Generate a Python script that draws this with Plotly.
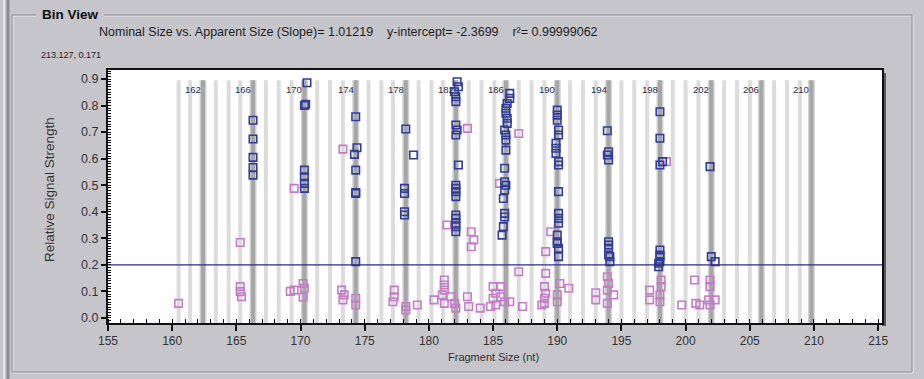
import plotly.graph_objects as go

# ---------------- data ----------------
bin_labels = ["162", "166", "170", "174", "178", "182", "186", "190", "194", "198", "202", "206", "210"]
bin_centers = [162.4, 166.3, 170.3, 174.3, 178.2, 182.1, 186.0, 190.0, 194.0, 198.0, 202.0, 205.9, 209.8]
minor_bins = [160.5, 161.4, 163.4, 164.4, 165.3, 167.3, 168.3, 169.3, 171.3, 172.3, 173.3,
              175.3, 176.3, 177.2, 179.2, 180.2, 181.1, 183.1, 184.1, 185.1, 187.0, 188.0,
              189.0, 191.0, 192.0, 193.0, 195.0, 196.0, 197.0, 199.0, 200.0, 201.0, 203.0,
              204.0, 205.0, 206.9, 207.9, 208.9]

blue_x = [166.3, 166.3, 166.3, 166.3, 166.3,
          170.5, 170.3, 170.4, 170.3, 170.3, 170.3, 170.3,
          174.3, 174.4, 174.2, 174.3, 174.3, 174.3, 174.3,
          178.2, 178.8, 178.1, 178.1, 178.1, 178.1,
          182.2, 182.3, 182.0, 182.1, 182.1, 182.1, 182.2, 182.1, 182.3, 182.1, 182.1, 182.1,
          182.1, 182.1, 182.1, 182.1, 182.1, 182.1,
          186.3, 186.3, 186.1, 186.0, 186.0, 186.1, 186.1, 185.9, 186.0, 186.0, 186.0, 185.9,
          185.9, 186.0, 185.9, 185.8, 185.9, 185.9, 185.8, 185.7,
          190.0, 190.0, 190.0, 190.1, 190.1, 189.9, 189.9, 189.9, 190.1, 190.1, 190.1, 190.1,
          190.1, 190.1, 190.0, 190.0, 190.1, 190.1, 190.0,
          193.9, 194.0, 193.9, 194.0, 194.0, 194.0, 194.0, 194.0, 194.1, 194.1,
          198.0, 198.0, 198.0, 198.2, 198.0, 198.0, 198.0, 198.0, 197.9, 197.9,
          201.9, 202.0, 202.3]
blue_y = [0.745, 0.674, 0.605, 0.567, 0.538,
          0.886, 0.800, 0.805, 0.557, 0.532, 0.507, 0.488,
          0.758, 0.641, 0.616, 0.557, 0.469, 0.472, 0.212,
          0.712, 0.614, 0.488, 0.469, 0.400, 0.388,
          0.890, 0.871, 0.852, 0.833, 0.815, 0.727, 0.708, 0.689, 0.576, 0.500, 0.488, 0.476,
          0.457, 0.388, 0.375, 0.357, 0.344, 0.325,
          0.846, 0.827, 0.808, 0.790, 0.771, 0.752, 0.733, 0.708, 0.689, 0.670, 0.632, 0.564,
          0.513, 0.500, 0.482, 0.450, 0.394, 0.380, 0.344, 0.312,
          0.783, 0.764, 0.745, 0.708, 0.689, 0.658, 0.639, 0.620, 0.589, 0.576, 0.476, 0.394,
          0.375, 0.357, 0.312, 0.287, 0.262, 0.231, 0.281,
          0.705, 0.626, 0.614, 0.595, 0.287, 0.275, 0.262, 0.237, 0.231, 0.212,
          0.777, 0.677, 0.576, 0.589, 0.256, 0.237, 0.231, 0.212, 0.206, 0.193,
          0.570, 0.231, 0.212]

pink_x = [160.5,
          165.3, 165.3, 165.3, 165.4,
          169.5, 169.5, 170.2, 170.3, 170.2, 169.2,
          173.3, 173.2, 173.4, 173.3, 174.3, 174.3,
          177.3, 177.3, 177.2, 178.2, 178.2, 179.1,
          181.2, 181.2, 181.2, 181.05, 181.2, 181.7, 182.0, 182.1, 180.4, 183.0, 183.1, 184.0,
          181.4, 183.3, 183.5, 183.3, 183.0,
          185.0, 185.6, 185.2, 185.0, 185.6, 185.9, 186.3, 185.2, 184.8, 185.5, 187.0, 187.0, 187.3,
          189.0, 189.1, 189.0, 189.0, 190.0, 190.0, 188.8, 190.2, 189.5, 189.1, 189.1, 190.9,
          193.0, 193.0, 193.9, 194.0, 193.9, 194.4, 193.9,
          198.1, 198.1, 198.0, 198.0, 197.2, 197.2, 199.7, 198.5,
          200.7, 200.8, 201.1, 201.9, 201.9, 201.8, 202.3, 201.9]
pink_y = [0.055,
          0.284, 0.118, 0.099, 0.080,
          0.488, 0.105, 0.130, 0.112, 0.078, 0.100,
          0.636, 0.105, 0.087, 0.068, 0.074, 0.049,
          0.105, 0.080, 0.061, 0.030, 0.043, 0.049,
          0.143, 0.124, 0.105, 0.087, 0.055, 0.080, 0.055, 0.037, 0.068, 0.080, 0.043, 0.037,
          0.350, 0.325, 0.294, 0.268, 0.714,
          0.118, 0.118, 0.093, 0.074, 0.080, 0.061, 0.061, 0.049, 0.043, 0.507, 0.695, 0.174, 0.043,
          0.118, 0.093, 0.074, 0.055, 0.087, 0.061, 0.049, 0.130, 0.325, 0.250, 0.168, 0.112,
          0.095, 0.068, 0.155, 0.130, 0.105, 0.087, 0.055,
          0.143, 0.118, 0.087, 0.061, 0.105, 0.068, 0.049, 0.589,
          0.143, 0.055, 0.049, 0.143, 0.118, 0.068, 0.068, 0.049]

threshold = 0.2
GAP = "\u00a0" * 4
title_text = ("Nominal Size vs. Apparent Size (Slope)= 1.01219" + GAP +
              "y-intercept= -2.3699" + GAP + "r\u00b2= 0.99999062")
cursor_text = "213.127, 0.171"

# ---------------- layout helpers ----------------
W, H = 924, 379
ML, MR, MT, MB = 108, 42, 70, 56
PW, PH = W - ML - MR, H - MT - MB


def px(x):
    return (x - ML) / PW


def py(y):
    return (H - MB - y) / PH


FONT = "Liberation Sans, Arial, sans-serif"
BG = "#c6c5ca"
STRIPE_TOP = 0.895
Y0, Y1 = -0.019, 0.934

fig = go.Figure()

shapes = []
for xv in minor_bins:
    shapes.append(dict(type="line", xref="x", yref="y", x0=xv, x1=xv, y0=Y0, y1=STRIPE_TOP,
                       line=dict(color="#dcdcdc", width=4), layer="below"))
for xv in bin_centers:
    shapes.append(dict(type="line", xref="x", yref="y", x0=xv, x1=xv, y0=Y0, y1=STRIPE_TOP,
                       line=dict(color="#d2d2d2", width=7), layer="below"))
    shapes.append(dict(type="line", xref="x", yref="y", x0=xv, x1=xv, y0=Y0, y1=STRIPE_TOP,
                       line=dict(color="#a6a6a6", width=4), layer="below"))

# threshold line
shapes.append(dict(type="line", xref="paper", yref="y", x0=0, x1=1, y0=threshold, y1=threshold,
                   line=dict(color="#2e2e78", width=1.3)))

# plot shadow (right side)
shapes.append(dict(type="rect", xref="paper", yref="paper", x0=px(882), x1=px(886), y0=py(326), y1=py(73),
                   fillcolor="#5a5a5a", line=dict(width=0), layer="below"))

# group box frame
gb = dict(x0=px(12), x1=px(912), y0=py(372), y1=py(15))
shapes.append(dict(type="rect", xref="paper", yref="paper", x0=px(13), x1=px(913), y0=py(373), y1=py(16),
                   line=dict(color="#ececec", width=1), layer="below"))
shapes.append(dict(type="rect", xref="paper", yref="paper", **gb,
                   line=dict(color="#8e8e92", width=1), layer="below"))
# cover the frame behind the "Bin View" caption
shapes.append(dict(type="rect", xref="paper", yref="paper", x0=px(36), x1=px(104), y0=py(23), y1=py(7),
                   fillcolor=BG, line=dict(width=0), layer="below"))
# window left edge
shapes.append(dict(type="line", xref="paper", yref="paper", x0=px(4), x1=px(4), y0=py(379), y1=py(0),
                   line=dict(color="#e6e6e6", width=2), layer="below"))
shapes.append(dict(type="line", xref="paper", yref="paper", x0=px(8), x1=px(8), y0=py(379), y1=py(0),
                   line=dict(color="#8c8c90", width=3), layer="below"))

fig.add_trace(go.Scatter(
    x=pink_x, y=pink_y, mode="markers", name="below",
    marker=dict(symbol="square-open", size=7.5, color="#c47cc8", line=dict(width=1.6, color="#c47cc8")),
    showlegend=False, hoverinfo="x+y"))
fig.add_trace(go.Scatter(
    x=blue_x, y=blue_y, mode="markers", name="above",
    marker=dict(symbol="square-open", size=7.5, color="#2f3c9c", line=dict(width=1.6, color="#2f3c9c")),
    showlegend=False, hoverinfo="x+y"))

annotations = []
for lab, xv in zip(bin_labels, bin_centers):
    annotations.append(dict(x=xv, y=0.862, xref="x", yref="y", text=lab, showarrow=False,
                            xanchor="right", yanchor="middle",
                            font=dict(family=FONT, size=9.5, color="#2c2c4c")))
annotations += [
    dict(x=px(40), y=py(15), xref="paper", yref="paper", text="<b>Bin View</b>", showarrow=False,
         xanchor="left", yanchor="middle", font=dict(family=FONT, size=13.5, color="#111111")),
    dict(x=px(97), y=py(32), xref="paper", yref="paper", text=title_text,
         showarrow=False, xanchor="left", yanchor="middle",
         font=dict(family=FONT, size=12.5, color="#1e1e1e")),
    dict(x=px(39), y=py(55), xref="paper", yref="paper", text=cursor_text, showarrow=False,
         xanchor="left", yanchor="middle", font=dict(family=FONT, size=9, color="#1e1e1e")),
    dict(x=px(49), y=py(190), xref="paper", yref="paper", text="Relative Signal Strength", showarrow=False,
         textangle=-90, xanchor="center", yanchor="middle",
         font=dict(family=FONT, size=13.5, color="#333333")),
    dict(x=px(493), y=py(357), xref="paper", yref="paper", text="Fragment Size (nt)", showarrow=False,
         xanchor="center", yanchor="middle", font=dict(family=FONT, size=11, color="#333333")),
]

fig.update_layout(
    width=W, height=H,
    margin=dict(l=ML, r=MR, t=MT, b=MB, pad=0),
    paper_bgcolor=BG, plot_bgcolor="white",
    shapes=shapes, annotations=annotations,
    font=dict(family=FONT, size=10, color="#333333"),
    xaxis=dict(range=[155, 215.3], tick0=155, dtick=5, ticks="outside", ticklen=6, tickwidth=1.5,
               tickcolor="#111111", showgrid=False, zeroline=False, showline=True, linewidth=2,
               linecolor="#111111", mirror=True,
               tickfont=dict(family=FONT, size=12, color="#333333"),
               minor=dict(dtick=1, ticks="inside", ticklen=4, tickwidth=1, tickcolor="#111111",
                          showgrid=False)),
    yaxis=dict(range=[Y0, Y1], tick0=0, dtick=0.1, tickformat=".1f", ticks="outside", ticklen=5,
               tickwidth=1.5, tickcolor="#111111", showgrid=False, zeroline=False, showline=True,
               linewidth=2, linecolor="#111111", mirror=True,
               tickfont=dict(family=FONT, size=12.5, color="#333333"),
               minor=dict(dtick=0.01, ticks="inside", ticklen=3, tickwidth=1, tickcolor="#111111",
                          showgrid=False)),
)

fig.write_html("out.html")
